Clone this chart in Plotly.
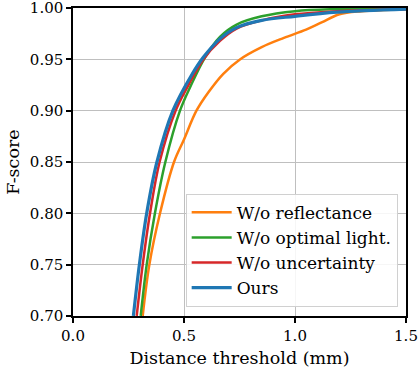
import plotly.graph_objects as go

# distance threshold (mm) and F-score
ours_x = [0.272, 0.299, 0.332, 0.378, 0.45, 0.535, 0.587, 0.662, 0.737, 0.85, 1.0, 1.19, 1.5]
ours_y = [0.70, 0.75, 0.80, 0.85, 0.90, 0.935, 0.952, 0.970, 0.981, 0.988, 0.992, 0.996, 0.999]

unc_x = [0.287, 0.314, 0.347, 0.390, 0.462, 0.52, 0.587, 0.662, 0.737, 0.85, 1.0, 1.19, 1.5]
unc_y = [0.70, 0.75, 0.80, 0.85, 0.90, 0.925, 0.950, 0.968, 0.980, 0.988, 0.994, 0.997, 0.999]

light_x = [0.305, 0.332, 0.369, 0.416, 0.482, 0.53, 0.595, 0.662, 0.737, 0.85, 1.0, 1.19, 1.5]
light_y = [0.70, 0.75, 0.80, 0.85, 0.90, 0.924, 0.952, 0.972, 0.984, 0.992, 0.997, 0.999, 1.0]

refl_x = [0.314, 0.344, 0.392, 0.455, 0.50, 0.556, 0.61, 0.677, 0.752, 0.85, 0.95, 1.05, 1.12, 1.2, 1.3, 1.5]
refl_y = [0.70, 0.75, 0.80, 0.85, 0.872, 0.90, 0.918, 0.936, 0.950, 0.962, 0.971, 0.979, 0.986, 0.994, 0.997, 0.999]

y_ticks = [0.70, 0.75, 0.80, 0.85, 0.90, 0.95, 1.00]
x_ticks = [0.0, 0.5, 1.0, 1.5]

series = [
    ("W/o reflectance", refl_x, refl_y, "#ff7f0e", 2.5),
    ("W/o optimal light.", light_x, light_y, "#2ca02c", 2.5),
    ("W/o uncertainty", unc_x, unc_y, "#d62728", 2.5),
    ("Ours", ours_x, ours_y, "#1f77b4", 3.2),
]

FONT = "DejaVu Serif, Liberation Serif, serif"

fig = go.Figure()
for name, xs, ys, color, w in series:
    fig.add_scatter(
        x=xs,
        y=ys,
        name=name,
        mode="lines",
        line=dict(color=color, width=w, shape="spline", smoothing=1.0),
    )

axis_common = dict(
    showline=True,
    linecolor="black",
    linewidth=1.5,
    mirror=True,
    ticks="outside",
    ticklen=5,
    tickwidth=1.5,
    tickcolor="black",
    showgrid=True,
    gridcolor="#bfbfbf",
    gridwidth=1.3,
    zeroline=False,
    automargin=False,
    ticklabeloverflow="allow",
    tickfont=dict(family=FONT, size=15, color="black"),
)

fig.update_xaxes(
    range=[0, 1.5],
    tickvals=x_ticks,
    ticktext=[f"{v:.1f}" for v in x_ticks],
    title=dict(text="Distance threshold (mm)", font=dict(family=FONT, size=17.5, color="black"), standoff=8),
    **axis_common,
)
fig.update_yaxes(
    range=[0.6999, 1.0001],
    tickvals=y_ticks,
    ticktext=[f"{v:.2f}" for v in y_ticks],
    title=dict(text="F-score", font=dict(family=FONT, size=17.5, color="black"), standoff=6),
    **axis_common,
)

fig.update_layout(
    width=420,
    height=375,
    margin=dict(l=73, r=14, t=8, b=59),
    plot_bgcolor="white",
    paper_bgcolor="white",
    font=dict(family=FONT, color="black"),
    legend=dict(
        x=0.975,
        y=0.03,
        xanchor="right",
        yanchor="bottom",
        bgcolor="rgba(255,255,255,0.85)",
        bordercolor="#d0d0d0",
        borderwidth=1,
        font=dict(family=FONT, size=17, color="black"),
        itemwidth=40,
        tracegroupgap=0,
    ),
)

fig.write_html(
    "out.html",
    config={"displayModeBar": False},
    post_script="document.body.style.margin='0';",
)
